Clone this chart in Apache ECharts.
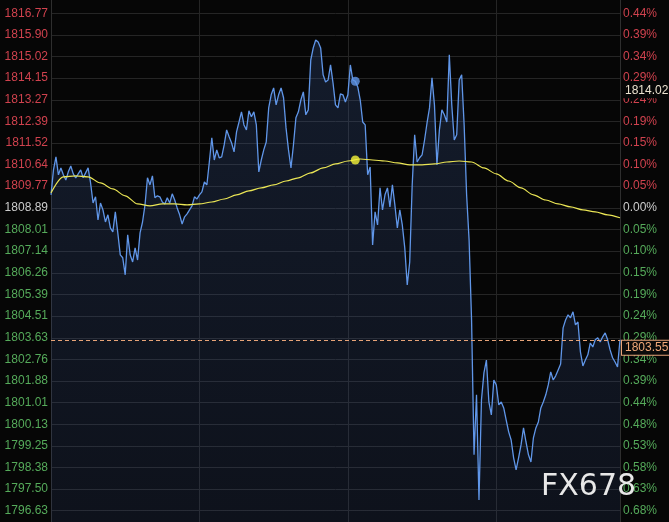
<!DOCTYPE html>
<html><head><meta charset="utf-8">
<script src="https://cdn.jsdelivr.net/npm/echarts@6/dist/echarts.min.js"></script>
<style>html,body{margin:0;padding:0;background:#060606;}#c{width:669px;height:522px;}</style>
</head><body><div id="c"></div>
<script>
// ---- data ----
const priceTicks = ['1816.77','1815.90','1815.02','1814.15','1813.27','1812.39','1811.52','1810.64','1809.77','1808.89','1808.01','1807.14','1806.26','1805.39','1804.51','1803.63','1802.76','1801.88','1801.01','1800.13','1799.25','1798.38','1797.50','1796.63'];
const pctTicks = ['0.44%','0.39%','0.34%','0.29%','0.24%','0.19%','0.15%','0.10%','0.05%','0.00%','0.05%','0.10%','0.15%','0.19%','0.24%','0.29%','0.34%','0.39%','0.44%','0.48%','0.53%','0.58%','0.63%','0.68%'];
const basePrice = 1808.89;
const axisTopPrice = 1817.31;
const axisBottomPrice = 1796.17;
const sessionMinutes = 1380;
const gridMinutes = 360;
const stepMinutes = 6;
const avgStepMinutes = 30;
const priceValues = [
1809.42,1810.43,1810.96,1810.23,1810.51,1810.23,1810.02,1810.35,1810.59,1810.27,
1810.11,1810.27,1810.43,1810.11,1810.31,1810.51,1809.90,1809.09,1809.34,1808.40,
1809.09,1808.81,1808.32,1808.61,1808.08,1807.92,1808.73,1807.88,1806.99,1806.87,
1806.18,1807.80,1806.99,1806.70,1807.27,1806.78,1807.88,1808.32,1809.01,1810.11,
1809.82,1810.19,1809.30,1809.38,1809.34,1809.13,1809.05,1809.30,1809.09,1809.46,
1809.21,1808.89,1808.61,1808.24,1808.53,1808.65,1808.81,1808.97,1809.34,1809.25,
1809.42,1809.54,1809.94,1809.82,1810.75,1811.73,1810.83,1811.24,1810.92,1810.96,
1811.44,1812.05,1811.77,1811.52,1811.16,1811.97,1812.37,1812.78,1812.25,1812.05,
1812.82,1812.58,1812.78,1812.25,1810.35,1810.83,1811.24,1811.56,1812.94,1813.47,
1813.75,1813.06,1813.47,1813.75,1813.35,1812.13,1811.24,1810.51,1811.44,1812.54,
1812.78,1813.26,1813.59,1812.66,1812.86,1814.88,1815.37,1815.69,1815.61,1815.37,
1814.28,1813.99,1814.07,1814.68,1813.95,1813.06,1812.94,1813.51,1813.47,1813.18,
1813.47,1814.68,1814.07,1814.02,1813.79,1813.26,1812.37,1812.25,1810.23,1810.55,
1807.39,1808.73,1808.20,1809.70,1808.81,1809.42,1809.70,1808.93,1809.82,1809.01,
1808.08,1808.81,1808.20,1807.27,1805.77,1806.70,1809.82,1811.85,1810.75,1810.92,
1811.04,1811.64,1812.33,1812.94,1814.16,1813.06,1810.63,1812.05,1812.86,1812.66,
1812.37,1815.09,1813.06,1811.64,1811.85,1814.07,1814.28,1812.25,1809.42,1807.59,
1804.35,1798.89,1801.32,1797.06,1801.11,1802.21,1802.73,1801.03,1800.51,1801.92,
1801.72,1800.91,1801.03,1800.79,1800.30,1799.82,1799.49,1798.77,1798.28,1798.77,
1799.29,1799.98,1799.41,1798.89,1798.60,1799.58,1799.98,1800.22,1800.79,1801.03,
1801.32,1801.72,1802.25,1801.92,1802.09,1802.33,1802.57,1804.03,1804.35,1804.56,
1804.44,1804.68,1804.15,1804.27,1803.06,1802.49,1802.73,1802.94,1803.42,1803.26,
1803.55,1803.63,1803.46,1803.67,1803.83,1803.55,1803.14,1802.82,1802.65,1802.45,
1803.55];
const avgValues = [
1809.50,1810.15,1810.19,1810.15,1809.90,1809.66,1809.38,1809.05,1808.97,1809.05,
1809.05,1809.01,1809.05,1809.13,1809.25,1809.42,1809.58,1809.70,1809.82,1809.98,
1810.11,1810.31,1810.51,1810.67,1810.79,1810.87,1810.83,1810.79,1810.71,1810.63,
1810.63,1810.67,1810.75,1810.79,1810.75,1810.51,1810.27,1809.98,1809.70,1809.42,
1809.21,1809.05,1808.93,1808.81,1808.73,1808.61,1808.49];
const lastPrice = 1803.55;
const hoverIndex = 123;
const hoverPrice = 1814.02;
const hoverAvg = 1810.83;
const watermarkText = 'FX678';

// ---- axis setup ----
const tickNums = priceTicks.map(parseFloat);
const baseIdx = priceTicks.indexOf(basePrice.toFixed(2));
const RED = '#d0424e', GREEN = '#55aa5a', NEUTRAL = '#cccccc';
function tickIndex(v) {
  const x = parseFloat(v);
  let best = 0, bd = Infinity;
  tickNums.forEach((t, i) => { const d = Math.abs(t - x); if (d < bd) { bd = d; best = i; } });
  return best;
}
function tickColor(v) {
  const k = tickIndex(v);
  return k < baseIdx ? RED : (k === baseIdx ? NEUTRAL : GREEN);
}
const FONT = 'Arial, "Liberation Sans", sans-serif';
const gridLine = { show: true, lineStyle: { color: '#252525', width: 1 } };

const chart = echarts.init(document.getElementById('c'), null, { renderer: 'canvas' });
chart.setOption({
  backgroundColor: '#060606',
  animation: false,
  grid: { left: 51, right: 49, top: 0, bottom: 0, containLabel: false },
  xAxis: {
    type: 'value', min: 0, max: sessionMinutes, interval: gridMinutes,
    axisLabel: { show: false }, axisTick: { show: false }, axisLine: { show: false },
    splitLine: gridLine
  },
  yAxis: [
    {
      type: 'value', position: 'left', min: axisBottomPrice, max: axisTopPrice,
      axisLine: { show: true, lineStyle: { color: '#2e2e2e' } },
      axisTick: { show: false, customValues: tickNums },
      splitLine: gridLine,
      axisLabel: {
        customValues: tickNums,
        margin: 3, fontSize: 12, fontFamily: FONT, color: tickColor,
        formatter: v => priceTicks[tickIndex(v)]
      }
    },
    {
      type: 'value', position: 'right', min: axisBottomPrice, max: axisTopPrice,
      axisLine: { show: true, lineStyle: { color: '#2e2e2e' } },
      axisTick: { show: false, customValues: tickNums },
      splitLine: { show: false },
      axisLabel: {
        customValues: tickNums,
        margin: 3, fontSize: 12, fontFamily: FONT, color: tickColor,
        formatter: v => pctTicks[tickIndex(v)]
      }
    }
  ],
  series: [
    {
      type: 'line', yAxisIndex: 0,
      data: priceValues.map((v, i) => [i * stepMinutes, v]),
      showSymbol: false, symbol: 'none',
      lineStyle: { color: '#6096e8', width: 1.3 },
      areaStyle: {
        origin: 'start',
        color: new echarts.graphic.LinearGradient(0, 0, 0, 1, [
          { offset: 0, color: 'rgba(60,92,155,0.36)' },
          { offset: 1, color: 'rgba(50,72,125,0.26)' }
        ])
      },
      z: 2,
      markLine: {
        silent: true, symbol: ['none', 'none'], animation: false,
        data: [
          {
            yAxis: lastPrice,
            lineStyle: { color: '#e8a478', type: [4, 3], width: 1 },
            label: {
              show: true, position: 'end', distance: 2, offset: [0, 8],
              formatter: p => Number(p.value).toFixed(2),
              color: '#f0a878', fontSize: 12, fontFamily: FONT,
              backgroundColor: '#0b0b0b', borderColor: '#e8a478', borderWidth: 1,
              padding: [1, 3]
            }
          },
          {
            yAxis: hoverPrice,
            lineStyle: { color: 'rgba(0,0,0,0)', width: 0 },
            label: {
              show: true, position: 'end', distance: 2, offset: [0, 9],
              formatter: p => Number(p.value).toFixed(2),
              color: '#ebe2cf', fontSize: 12, fontFamily: FONT,
              backgroundColor: '#070707', padding: [2, 3]
            }
          }
        ]
      }
    },
    {
      type: 'line', yAxisIndex: 0,
      data: avgValues.map((v, i) => [i * avgStepMinutes, v]),
      showSymbol: false, symbol: 'none', smooth: 0.3, smoothMonotone: 'x',
      lineStyle: { color: '#ebe655', width: 1.2 },
      z: 3
    },
    {
      type: 'scatter', yAxisIndex: 0, symbolSize: 9, z: 4,
      data: [
        { value: [hoverIndex * stepMinutes, hoverPrice], itemStyle: { color: '#6096e8' } },
        { value: [hoverIndex * stepMinutes, hoverAvg], itemStyle: { color: '#f6f43a' } }
      ]
    }
  ],
  graphic: [
    {
      type: 'text', left: 541, top: 472, z: 100, silent: true,
      style: { text: watermarkText, fill: '#e8e8e8', font: '30px "DejaVu Sans", sans-serif' }
    }
  ]
});
</script>
</body></html>
